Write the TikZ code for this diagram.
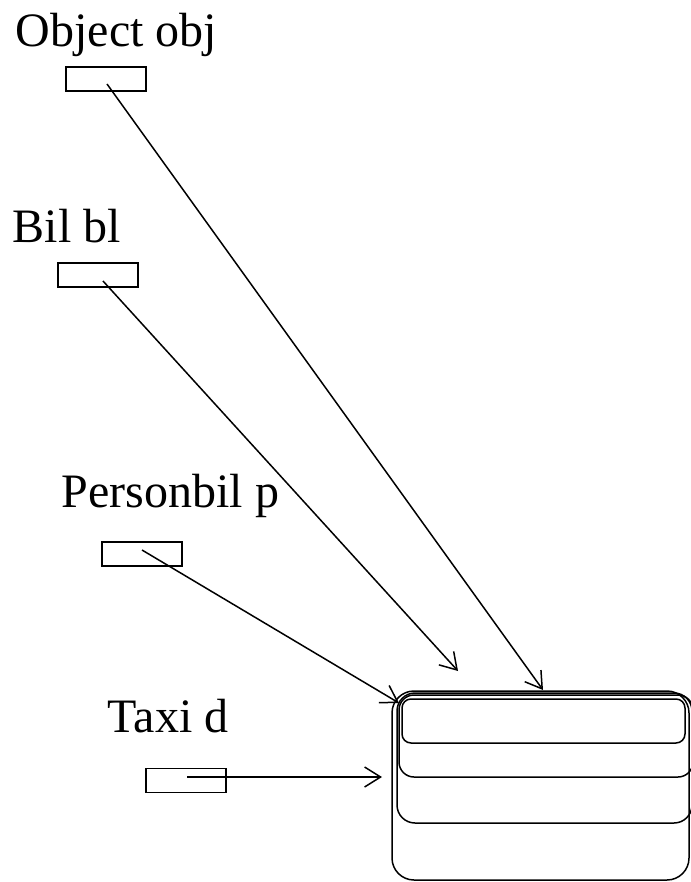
\documentclass[tikz,border=0pt]{standalone}
\usepackage{fontspec}
\setmainfont{Liberation Serif}
\usetikzlibrary{arrows.meta}
\begin{document}
\begin{tikzpicture}[x=1pt,y=-1pt,
  line width=1.5pt,
  varbox/.style={draw,minimum width=80pt,minimum height=24pt,inner sep=0pt,outer sep=0pt},
  varname/.style={anchor=base west,inner sep=0pt,font=\fontsize{48}{50}\selectfont},
  ref/.style={-{Straight Barb[length=16pt,width=20pt]}},
  heap/.style={draw,rounded corners=#1}]
\useasboundingbox (0,0) rectangle (690,882);

% variable names
\node[varname] (objlbl) at (15,47) {Object obj};
\node[varname] (billbl) at (12,243) {Bil bl};
\node[varname] (perslbl) at (61,507) {Personbil p};
\node[varname] (taxilbl) at (107,732) {Taxi d};

% reference variables
\node[varbox] (objbox) at (106,79) {};
\node[varbox] (bilbox) at (98,275) {};
\node[varbox] (persbox) at (142,554) {};
\node[varbox] (taxibox) at (186,780.5) {};

% the object on the heap: nested layers
\draw[heap=22pt] (392,691) rectangle (689,880);
\draw[heap=18pt] (397,693) rectangle (692,823);
\draw[heap=15pt] (399,695) rectangle (693,777);
\draw[heap=9pt] (402,699) rectangle (685,743);

% reference start points and targets
\coordinate (objs) at (107,84);
\coordinate (bils) at (103,281);
\coordinate (perss) at (142,550);
\coordinate (taxis) at (187,777);
\coordinate (objt) at (543,690);
\coordinate (bilt) at (458,671);
\coordinate (perst) at (399,703);
\coordinate (taxit) at (382,777);

\draw[ref] (objs) -- (objt);
\draw[ref] (bils) -- (bilt);
\draw[ref] (perss) -- (perst);
\draw[ref] (taxis) -- (taxit);
\end{tikzpicture}
\end{document}
